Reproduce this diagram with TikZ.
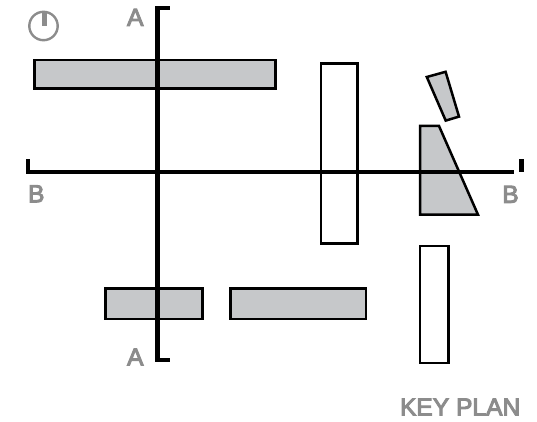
\documentclass[tikz,border=0pt]{standalone}
\usepackage{fontspec}
\setmainfont{Liberation Sans}
\newfontfamily\labelfont[FakeBold=4]{Liberation Sans}
\definecolor{wallgray}{RGB}{198,200,202}
\definecolor{labelgray}{RGB}{140,140,140}
\tikzset{
  wall/.style={draw=black,line width=2.5pt,fill=wallgray,line join=miter},
  glass/.style={draw=black,line width=2.1pt,fill=white},
  section/.style={line width=4.4pt,line cap=butt},
  seclabel/.style={text=labelgray,inner sep=0pt,font=\fontsize{24.6}{24.6}\labelfont},
}

\begin{document}
\begin{tikzpicture}[x=1pt,y=-1pt]
\useasboundingbox (0,0) rectangle (537,422);

% Walls
\draw [wall] (34.7,59.8) rectangle (275.6,88.6);
\draw [wall] (105.3,288.6) rectangle (202.5,319);
\draw [wall] (230.6,288.6) rectangle (366,319);
\draw [wall] (420,126) -- (439,126) -- (478,214.7) -- (420,214.7) -- cycle;
\draw [wall] (426.8,77) -- (445.6,71.8) -- (459,116.6) -- (445.7,120.6) -- cycle;

% Open boxes
\draw [glass] (321,63.5) rectangle (357.5,243.5);
\draw [glass] (420,246) rectangle (448.5,362.6);

% Section A
\coordinate (A1) at (169.8,8.2);
\coordinate (A2) at (157.6,8.2);
\coordinate (A3) at (157.6,360);
\coordinate (A4) at (169.8,360);
\draw [section,line join=miter] (A1) -- (A2) -- (A3) -- (A4);

% Section B
\coordinate (B1) at (28.2,159.3);
\coordinate (B2) at (28.2,172);
\coordinate (B3) at (514.3,172);
\coordinate (B4) at (521,159.3);
\coordinate (B5) at (521,171.8);
\draw [section,line width=4pt,line join=miter] (B1) -- (B2) -- (B3);
\draw [section,line width=5pt] (B4) -- (B5);

% Labels
\node [seclabel] (labelA1) at (135.3,17.3) {A};
\node [seclabel] (labelA2) at (135.3,357) {A};
\node [seclabel] (labelB1) at (36.3,193.8) {B};
\node [seclabel] (labelB2) at (510.5,194.3) {B};
\node [seclabel,anchor=east] (keyplan) at (520.5,407) {KEY PLAN};

% North point
\coordinate (N) at (43.5,26);
\coordinate (Ntop) at (44.6,12);
\coordinate (Nend) at (44.6,25.7);
\draw [labelgray,line width=2.4pt] (N) circle (14.2);
\draw [labelgray,line width=4.4pt] (Ntop) -- (Nend);

\end{tikzpicture}
\end{document}
